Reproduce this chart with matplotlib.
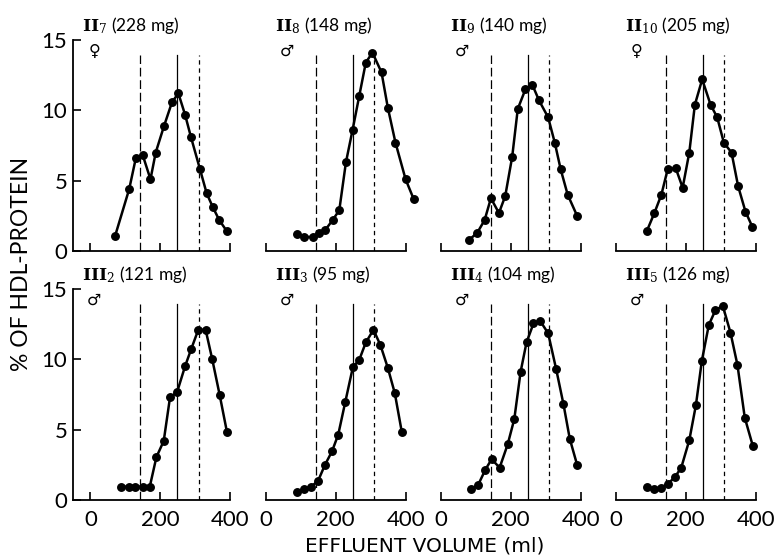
import matplotlib
matplotlib.use('Agg')
import matplotlib.pyplot as plt

plt.rcParams['mathtext.fontset'] = 'dejavuserif'

# ---------------- data ----------------
panel_numerals = ['II', 'II', 'II', 'II', 'III', 'III', 'III', 'III']
panel_subs = ['7', '8', '9', '10', '2', '3', '4', '5']
panel_mg = [228, 148, 140, 205, 121, 95, 104, 126]
panel_sex = ['♀', '♂', '♂', '♀', '♂', '♂', '♂', '♂']

ii7_ml = [71, 111, 130, 150, 172, 187, 211, 234, 252, 271, 288, 314, 333, 351, 369, 391]
ii7_pct = [1.1, 4.4, 6.6, 6.8, 5.1, 7.0, 8.9, 10.6, 11.2, 9.7, 8.1, 5.8, 4.1, 3.1, 2.2, 1.4]

ii8_ml = [88, 108, 134, 151, 170, 191, 210, 229, 248, 267, 286, 305, 331, 349, 371, 400, 423]
ii8_pct = [1.2, 1.0, 1.0, 1.25, 1.5, 2.2, 2.9, 6.3, 8.6, 11.0, 13.4, 14.1, 12.7, 10.2, 7.7, 5.1, 3.7]

ii9_ml = [81, 104, 125, 143, 166, 184, 204, 220, 242, 262, 281, 307, 326, 343, 363, 390]
ii9_pct = [0.8, 1.3, 2.2, 3.75, 2.7, 3.9, 6.7, 10.1, 11.5, 11.8, 10.7, 9.5, 7.7, 5.8, 4.0, 2.5]

ii10_ml = [88, 110, 130, 148, 171, 191, 210, 226, 247, 271, 290, 309, 331, 350, 371, 391]
ii10_pct = [1.4, 2.7, 4.0, 5.8, 5.9, 4.5, 7.0, 10.4, 12.2, 10.4, 9.5, 7.7, 7.0, 4.6, 2.8, 1.7]

iii2_ml = [88, 110, 129, 150, 170, 189, 210, 228, 248, 271, 289, 309, 330, 349, 370, 391]
iii2_pct = [0.95, 0.95, 0.95, 0.95, 0.95, 3.05, 4.2, 7.3, 7.65, 9.5, 10.75, 12.1, 12.1, 10.0, 7.5, 4.85]

iii3_ml = [88, 108, 129, 149, 169, 189, 207, 227, 249, 267, 286, 308, 328, 349, 369, 389]
iii3_pct = [0.55, 0.75, 0.95, 1.35, 2.5, 3.45, 4.65, 6.95, 9.45, 9.95, 11.2, 12.1, 11.0, 9.4, 7.6, 4.85]

iii4_ml = [86, 106, 127, 145, 168, 191, 210, 228, 245, 265, 285, 307, 330, 351, 369, 390]
iii4_pct = [0.75, 1.05, 2.15, 2.9, 2.3, 3.95, 5.75, 9.1, 11.2, 12.55, 12.7, 11.85, 9.3, 6.8, 4.35, 2.5]

iii5_ml = [88, 109, 128, 148, 168, 187, 210, 229, 246, 266, 285, 306, 328, 348, 369, 392]
iii5_pct = [0.9, 0.8, 0.85, 1.15, 1.6, 2.3, 4.25, 6.75, 9.9, 12.45, 13.5, 13.8, 11.9, 9.6, 5.85, 3.85]

series_ml = [ii7_ml, ii8_ml, ii9_ml, ii10_ml, iii2_ml, iii3_ml, iii4_ml, iii5_ml]
series_pct = [ii7_pct, ii8_pct, ii9_pct, ii10_pct, iii2_pct, iii3_pct, iii4_pct, iii5_pct]

ref_volumes = [143, 249, 310]      # reference fraction boundaries (ml)
ref_top = 13.9
x_ticks = [0, 200, 400]
y_ticks = [0, 5, 10, 15]

# ---------------- layout ----------------
W, H = 777, 558
fig = plt.figure(figsize=(W / 100, H / 100), dpi=100)

col_left_px = [73, 266, 441, 616]
row_bottom_px = [251, 500]
axes_h_px = 211
px_per_ml = 0.349

tick_font = dict(family='Lato', weight='normal', size=16)
line_styles = [(0, (7, 3)), '-', (0, (3.5, 3))]

for i in range(8):
    r, c = divmod(i, 4)
    xmin = -50 if c == 0 else 0
    width_px = (400 - xmin) * px_per_ml
    left = col_left_px[c] / W
    bottom = 1 - row_bottom_px[r] / H
    ax = fig.add_axes([left, bottom, width_px / W, axes_h_px / H])
    ax.set_xlim(xmin, 400)
    ax.set_ylim(0, 15)
    ax.patch.set_visible(False)

    for v, ls in zip(ref_volumes, line_styles):
        ax.plot([v, v], [0, ref_top], color='black', lw=0.9, linestyle=ls, zorder=1)

    ax.plot(series_ml[i], series_pct[i], color='black', lw=1.8, marker='o',
            markersize=5.4, clip_on=False, zorder=3)

    for s in ['top', 'right']:
        ax.spines[s].set_visible(False)
    ax.spines['bottom'].set_linewidth(1.3)
    if c == 0:
        ax.spines['left'].set_linewidth(1.3)
        ax.set_yticks(y_ticks)
        ax.tick_params(axis='y', direction='in', length=5.5, width=1.2, pad=4)
        for lab in ax.get_yticklabels():
            lab.set_fontfamily(tick_font['family'])
            lab.set_fontweight(tick_font['weight'])
            lab.set_fontsize(tick_font['size'])
    else:
        ax.spines['left'].set_visible(False)
        ax.spines['bottom'].set_bounds(0, 400)
        ax.set_yticks([])

    ax.set_xticks(x_ticks)
    ax.tick_params(axis='x', direction='in', length=5.5, width=1.2, pad=7)
    if r == 0:
        ax.set_xticklabels([])
    else:
        for lab in ax.get_xticklabels():
            lab.set_fontfamily(tick_font['family'])
            lab.set_fontweight(tick_font['weight'])
            lab.set_fontsize(tick_font['size'])

    # panel titles
    top_px = row_bottom_px[r] - axes_h_px
    title = (r'$\mathbf{' + panel_numerals[i] + r'}_{' + panel_subs[i] + r'}$'
             + f' ({panel_mg[i]} mg)')
    fig.text((col_left_px[c] + 9) / W, 1 - (top_px - 14) / H,
             title, fontsize=12.5, family='Lato',
             va='center', ha='left')
    fig.text((col_left_px[c] + 21) / W, 1 - (top_px + 11) / H,
             panel_sex[i], fontsize=11.5, family='DejaVu Sans',
             va='center', ha='center')

fig.text(22 / W, 1 - 264 / H, '% OF HDL-PROTEIN', rotation=90,
         family='Lato', fontsize=16.5, va='center', ha='center')
fig.text(425 / W, 1 - 546 / H, 'EFFLUENT VOLUME (ml)',
         family='DejaVu Sans', fontsize=14.5, va='center', ha='center')

fig.savefig('out.png', dpi=100)
